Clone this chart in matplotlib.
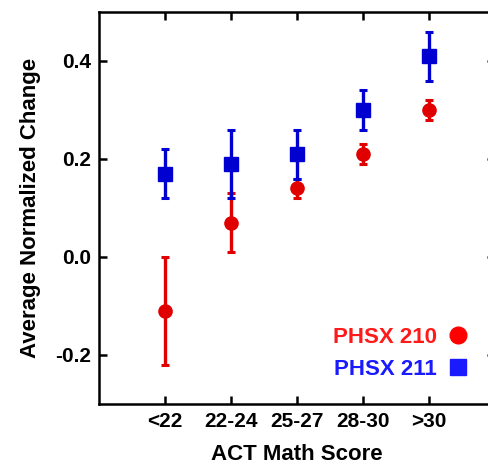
import numpy as np
import matplotlib
matplotlib.use("Agg")
import matplotlib.pyplot as plt
from matplotlib.lines import Line2D

# ACT math score bins
categories = ['<22', '22-24', '25-27', '28-30', '>30']

# PHSX 210 (red circles)
phsx210 = [-0.11, 0.07, 0.14, 0.21, 0.30]
phsx210_err = [0.11, 0.06, 0.02, 0.02, 0.02]

# PHSX 211 (blue squares)
phsx211 = [0.17, 0.19, 0.21, 0.30, 0.41]
phsx211_err = [0.05, 0.07, 0.05, 0.04, 0.05]

yticks = [-0.2, 0.0, 0.2, 0.4]

plt.rcParams['font.family'] = ['Liberation Sans', 'DejaVu Sans']
plt.rcParams['font.weight'] = 'bold'

RED = '#e00000'
BLUE = '#0000d0'

fig = plt.figure(figsize=(4.89, 4.65), dpi=100)
ax = fig.add_axes([99 / 489, 61 / 465, 396 / 489, 392 / 465])

x = np.arange(1, len(categories) + 1)

ax.errorbar(x, phsx210, yerr=phsx210_err, fmt='o', color=RED, ms=9.5,
            elinewidth=2.4, capsize=3.2, capthick=2.2, zorder=3)
ax.errorbar(x, phsx211, yerr=phsx211_err, fmt='s', color=BLUE, ms=9.5,
            elinewidth=2.4, capsize=3.2, capthick=2.2, zorder=4)

ax.set_xlim(0, 6)
ax.set_ylim(-0.3, 0.5)
ax.set_xticks(x)
ax.set_xticklabels(categories)
ax.set_yticks(yticks)
ax.set_yticklabels(['%.1f' % v for v in yticks])

for s in ax.spines.values():
    s.set_linewidth(1.8)

ax.tick_params(direction='in', length=6, width=1.8, labelsize=15,
               top=True, right=True, pad=6)

ax.set_xlabel('ACT Math Score', fontsize=16, fontweight='bold', labelpad=9)
ax.set_ylabel('Average Normalized Change', fontsize=16, fontweight='bold', labelpad=10)

handles = [Line2D([], [], ls='none', marker='o', color='#ff0000', ms=12),
           Line2D([], [], ls='none', marker='s', color='#1a1aff', ms=12)]
ax.legend(handles, ['PHSX 210', 'PHSX 211'], loc='lower right',
          bbox_to_anchor=(0.963, 0.034), frameon=False, markerfirst=False,
          labelcolor=['#ff1a1a', '#1a1aff'], prop={'size': 16, 'weight': 'bold'},
          handlelength=1.0, handletextpad=0.45, labelspacing=0.48, borderpad=0)

fig.savefig('out.png', dpi=100)
